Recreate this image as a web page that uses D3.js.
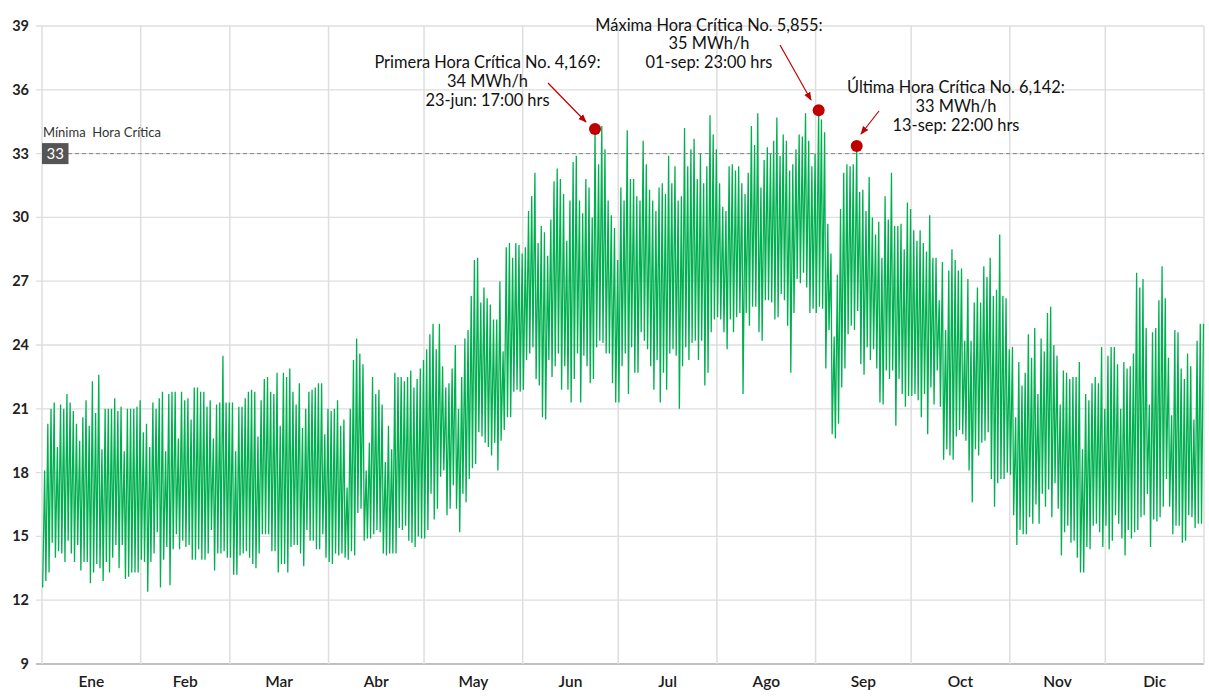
<!DOCTYPE html>
<html>
<head>
<meta charset="utf-8">
<script src="https://cdn.jsdelivr.net/npm/d3@7"></script>
<style>
  body { margin: 0; background: #fff; }
  text { font-family: Lato, "Open Sans", sans-serif; }
</style>
</head>
<body>
<script>
var width = 1209,
    height = 698;

var months = ["Ene", "Feb", "Mar", "Abr", "May", "Jun", "Jul", "Ago", "Sep", "Oct", "Nov", "Dic"];
var daysInMonth = [31, 28, 31, 30, 31, 30, 31, 31, 30, 31, 30, 31];
var yTicks = [9, 12, 15, 18, 21, 24, 27, 30, 33, 36, 39];
var threshold = 33;

// daily peak (MWh/h), one value per day
var dailyMax = [
  // Ene
  18.1, 20.3, 21.0, 21.3, 19.2, 21.2, 21.0, 21.7, 21.3, 20.9, 20.3, 19.5, 20.6, 21.4, 20.2, 22.3, 20.8, 22.6, 19.1, 21.0, 21.0, 21.0, 21.5, 20.9, 21.1, 19.0, 21.0, 21.0, 21.0, 21.1, 21.4,
  // Feb
  19.9, 20.3, 19.2, 21.3, 21.0, 21.5, 21.8, 19.0, 21.7, 21.8, 21.8, 19.6, 21.8, 21.4, 21.5, 20.5, 22.0, 22.0, 21.8, 21.8, 21.1, 21.4, 19.6, 21.2, 21.3, 23.5, 21.3, 21.3,
  // Mar
  21.3, 19.0, 21.1, 21.1, 21.5, 21.8, 21.9, 21.8, 19.7, 21.4, 22.4, 22.5, 21.8, 21.7, 22.7, 20.2, 22.7, 22.5, 22.9, 21.8, 21.2, 22.2, 20.1, 21.0, 21.8, 21.9, 22.0, 22.2, 22.2, 19.8, 21.0,
  // Abr
  20.9, 21.0, 21.4, 20.2, 20.5, 17.3, 21.0, 23.3, 24.3, 23.6, 23.1, 18.1, 19.4, 22.5, 21.7, 21.9, 21.2, 18.5, 20.2, 19.1, 22.7, 22.5, 22.5, 22.3, 22.5, 22.8, 22.0, 22.4, 22.9, 23.3,
  // May
  23.8, 24.5, 25.0, 23.8, 25.0, 23.0, 22.0, 22.2, 22.9, 24.0, 21.0, 22.5, 24.3, 24.7, 26.3, 28.0, 28.1, 26.0, 26.7, 26.2, 25.9, 25.2, 25.2, 27.0, 23.7, 28.6, 28.8, 28.1, 28.8, 28.7, 28.3,
  // Jun
  28.6, 30.3, 31.0, 32.1, 28.8, 29.6, 29.3, 28.2, 29.9, 31.7, 32.3, 31.8, 31.1, 28.9, 30.8, 32.6, 32.9, 30.8, 30.2, 31.8, 31.4, 30.0, 34.16, 32.5, 34.3, 33.2, 30.8, 30.1, 29.5, 28.0,
  // Jul
  31.4, 30.8, 34.1, 31.8, 31.8, 31.0, 30.8, 33.6, 32.5, 31.3, 30.8, 30.3, 31.4, 31.6, 31.1, 32.9, 31.6, 32.4, 30.8, 31.0, 34.2, 32.4, 33.2, 33.7, 31.8, 33.0, 31.6, 32.4, 34.8, 33.9, 33.2,
  // Ago
  31.6, 30.5, 30.3, 32.4, 32.5, 32.2, 32.4, 31.6, 31.1, 32.1, 34.3, 33.4, 34.9, 31.4, 32.7, 33.3, 33.0, 33.6, 34.7, 32.9, 33.9, 33.6, 32.2, 32.5, 33.2, 33.9, 33.8, 34.9, 33.6, 32.4, 33.0,
  // Sep
  35.04, 34.6, 34.0, 29.7, 28.3, 24.4, 27.3, 30.4, 32.1, 32.5, 32.4, 32.5, 33.36, 31.2, 31.3, 30.3, 31.9, 30.0, 29.2, 29.8, 28.1, 31.0, 29.9, 32.1, 29.6, 29.6, 29.7, 28.5, 30.7, 30.4,
  // Oct
  29.4, 28.9, 29.4, 28.8, 28.4, 30.1, 28.1, 28.1, 26.1, 27.9, 24.7, 27.5, 28.5, 28.0, 27.5, 27.6, 24.2, 27.1, 24.2, 26.0, 26.7, 26.0, 27.7, 27.2, 28.1, 26.3, 26.6, 29.2, 26.3, 26.2, 23.8,
  // Nov
  23.9, 20.6, 23.2, 22.1, 22.7, 24.5, 23.4, 24.8, 21.7, 24.3, 23.7, 25.5, 25.8, 24.0, 23.5, 21.2, 22.8, 22.7, 22.4, 22.5, 22.5, 23.2, 19.1, 21.7, 21.4, 22.2, 22.5, 22.2, 23.9, 21.0,
  // Dic
  23.5, 23.9, 23.9, 23.1, 21.0, 23.2, 22.9, 23.0, 23.6, 27.4, 26.7, 27.1, 24.8, 21.2, 24.6, 24.8, 26.1, 27.7, 26.2, 23.4, 20.7, 24.7, 24.6, 22.9, 22.4, 23.6, 23.0, 20.5, 24.2, 25.0, 25.0
];

// daily low (MWh/h)
var dailyMin = [
  // Ene
  12.6, 12.9, 13.3, 14.7, 14.0, 14.3, 14.2, 13.8, 14.8, 14.2, 13.8, 14.6, 13.4, 13.8, 13.8, 12.8, 13.3, 13.7, 13.5, 12.9, 13.8, 13.3, 14.0, 14.6, 13.5, 14.6, 13.0, 13.1, 13.3, 13.3, 13.3,
  // Feb
  13.9, 13.8, 12.4, 13.8, 14.2, 15.2, 12.6, 13.9, 14.5, 12.7, 14.4, 15.1, 14.4, 14.8, 14.5, 14.6, 13.9, 13.9, 14.4, 13.9, 13.9, 14.2, 15.3, 13.4, 14.2, 14.2, 14.3, 14.0,
  // Mar
  14.0, 13.2, 13.2, 14.1, 14.2, 14.3, 14.0, 13.7, 13.5, 14.2, 15.1, 15.1, 15.1, 14.3, 14.3, 13.3, 13.7, 13.7, 13.3, 14.5, 14.6, 14.6, 14.2, 13.6, 15.3, 14.8, 14.8, 14.4, 14.4, 15.1, 14.0,
  // Abr
  13.8, 13.7, 14.2, 14.1, 14.2, 14.0, 13.9, 14.3, 14.1, 16.1, 16.3, 14.8, 14.9, 14.9, 15.1, 15.3, 15.2, 14.2, 14.1, 14.2, 14.2, 14.2, 15.4, 15.3, 15.5, 14.8, 14.7, 14.5, 15.0, 14.9,
  // May
  14.9, 15.3, 17.0, 15.8, 16.3, 17.8, 18.1, 16.0, 16.3, 17.4, 16.3, 15.2, 17.0, 16.6, 17.7, 18.2, 18.4, 19.9, 19.7, 19.4, 19.2, 18.8, 19.4, 18.1, 19.5, 20.0, 20.6, 20.6, 21.8, 21.9, 21.8,
  // Jun
  21.9, 23.3, 23.6, 23.9, 22.4, 22.1, 20.6, 20.5, 23.3, 22.5, 23.0, 23.6, 21.9, 23.0, 21.9, 21.3, 22.4, 23.6, 21.3, 23.5, 23.0, 22.2, 22.4, 23.9, 24.2, 24.1, 23.6, 23.6, 22.2, 21.3,
  // Jul
  21.3, 23.0, 23.6, 21.7, 23.9, 22.7, 22.7, 24.6, 24.2, 23.8, 23.0, 21.9, 23.3, 21.3, 22.7, 21.9, 23.6, 23.8, 23.5, 21.0, 23.0, 23.9, 23.3, 24.1, 24.2, 23.3, 24.2, 22.1, 22.7, 24.6, 25.2,
  // Ago
  25.3, 25.2, 24.6, 23.8, 25.2, 24.6, 25.3, 25.5, 21.7, 25.5, 24.9, 25.8, 25.8, 24.6, 24.2, 26.1, 26.1, 26.0, 25.2, 25.3, 26.4, 26.1, 24.9, 22.7, 25.5, 27.1, 26.9, 27.4, 26.7, 25.5, 25.7,
  // Sep
  25.5, 25.8, 25.7, 22.9, 24.7, 19.8, 19.6, 20.3, 22.0, 22.9, 24.5, 24.9, 24.7, 25.6, 23.1, 22.6, 23.9, 23.3, 23.8, 22.9, 21.3, 21.2, 22.8, 22.4, 22.8, 20.2, 22.4, 21.7, 21.1, 21.6,
  // Oct
  21.6, 21.7, 21.4, 20.6, 21.7, 19.8, 22.0, 21.2, 22.8, 21.1, 18.6, 19.1, 18.8, 18.6, 19.7, 20.0, 19.8, 19.5, 18.1, 16.6, 19.1, 18.8, 19.4, 19.5, 19.9, 17.7, 16.4, 17.5, 17.7, 17.7, 18.0,
  // Nov
  17.9, 16.0, 14.6, 15.3, 15.1, 15.1, 15.9, 15.6, 16.5, 15.6, 17.0, 16.4, 17.2, 15.9, 17.5, 16.3, 14.1, 15.2, 15.5, 14.7, 14.8, 14.0, 13.3, 13.3, 14.5, 14.4, 15.5, 15.6, 15.2, 14.5,
  // Dic
  15.5, 14.4, 14.8, 16.0, 15.6, 14.9, 14.1, 15.3, 14.9, 15.2, 15.3, 15.9, 16.0, 17.0, 14.5, 15.8, 15.7, 15.9, 16.4, 17.7, 16.4, 15.1, 15.5, 15.5, 14.7, 14.8, 16.0, 15.9, 15.4, 15.6, 15.6
];

// critical hours
var critTitles = ["Primera Hora Crítica", "Máxima Hora Crítica", "Última Hora Crítica"];
var critHours = [4169, 5855, 6142];
var critValues = [34.16, 35.04, 33.36];
var critDates = ["23-jun", "01-sep", "13-sep"];

var svg = d3.select("body").append("svg")
    .attr("width", width)
    .attr("height", height);

var x = d3.scaleLinear()
    .domain([0, 8760])
    .range([42, 1204]);

var y = d3.scaleLinear()
    .domain([9, 39])
    .range([664, 26]);

// month boundaries in hours
var monthStart = [0];
daysInMonth.forEach(function(d, i) { monthStart.push(monthStart[i] + d * 24); });

var grid = svg.append("g").attr("class", "grid");

grid.selectAll("line.h")
  .data(yTicks)
  .enter().append("line")
    .attr("class", "h")
    .attr("x1", 36)
    .attr("x2", x(8760))
    .attr("y1", d => y(d))
    .attr("y2", d => y(d))
    .style("stroke", d => d === 9 ? "#aaa" : "#dedede")
    .style("stroke-width", 1.3);

grid.selectAll("line.v")
  .data(monthStart)
  .enter().append("line")
    .attr("class", "v")
    .attr("x1", d => x(d))
    .attr("x2", d => x(d))
    .attr("y1", y(39))
    .attr("y2", y(9))
    .style("stroke", "#dedede")
    .style("stroke-width", 1.5);

svg.append("g").selectAll("text")
  .data(yTicks)
  .enter().append("text")
    .attr("x", 29)
    .attr("y", d => y(d))
    .attr("dy", "0.35em")
    .attr("text-anchor", "end")
    .style("font-size", "14.5px")
    .style("font-weight", "bold")
    .style("fill", "#222")
    .text(d => d);

svg.append("g").selectAll("text")
  .data(months)
  .enter().append("text")
    .attr("x", (d, i) => x((monthStart[i] + monthStart[i + 1]) / 2))
    .attr("y", 687)
    .attr("text-anchor", "middle")
    .style("font-size", "15.5px")
    .style("font-weight", "600")
    .style("fill", "#1a1a1a")
    .text(d => d);

// hourly zigzag: daily low early morning, daily peak in the evening
var points = [];
dailyMax.forEach(function(mx, i) {
  var peakHour = 20;
  critHours.forEach(function(h) { if (Math.floor(h / 24) === i) peakHour = h % 24; });
  points.push([i * 24 + 5, dailyMin[i]]);
  points.push([i * 24 + peakHour, mx]);
});

var line = d3.line()
    .x(d => x(d[0]))
    .y(d => y(d[1]));

svg.append("path")
    .datum(points)
    .attr("d", line)
    .style("fill", "none")
    .style("stroke", "#00b050")
    .style("stroke-width", 1.3)
    .style("stroke-linejoin", "miter");

// threshold
svg.append("line")
    .attr("x1", 68)
    .attr("x2", x(8760))
    .attr("y1", y(threshold))
    .attr("y2", y(threshold))
    .style("stroke", "#888")
    .style("stroke-width", 1)
    .style("stroke-dasharray", "4,3");

svg.append("rect")
    .attr("x", 42)
    .attr("y", y(threshold) - 10.5)
    .attr("width", 26.5)
    .attr("height", 21)
    .style("fill", "#555");

svg.append("text")
    .attr("x", 55.2)
    .attr("y", y(threshold) + 5.5)
    .attr("text-anchor", "middle")
    .style("font-size", "15px")
    .style("fill", "#fff")
    .text(threshold);

svg.append("text")
    .attr("x", 43)
    .attr("y", 137)
    .style("font-size", "13px")
    .style("fill", "#333")
    .style("white-space", "pre")
    .text("Mínima  Hora Crítica");

// annotations
var defs = svg.append("defs");
defs.append("marker")
    .attr("id", "arrow")
    .attr("viewBox", "0 0 10 10")
    .attr("refX", 9)
    .attr("refY", 5)
    .attr("markerWidth", 7)
    .attr("markerHeight", 7)
    .attr("orient", "auto")
  .append("path")
    .attr("d", "M0,1 L10,5 L0,9 Z")
    .style("fill", "#c00000");

var labelPos = [[487.5, 68.3], [709, 30.7], [956, 93.3]];
var arrowFrom = [[548, 83], [780, 45], [879, 111]];
var arrowTo = [[586, 122], [811, 100], [861, 134]];

var fmt = d3.format(",");

critHours.forEach(function(h, i) {
  var g = svg.append("g").attr("class", "annotation");

  g.append("line")
      .attr("x1", arrowFrom[i][0])
      .attr("y1", arrowFrom[i][1])
      .attr("x2", arrowTo[i][0])
      .attr("y2", arrowTo[i][1])
      .style("stroke", "#c00000")
      .style("stroke-width", 1.2)
      .attr("marker-end", "url(#arrow)");

  g.append("circle")
      .attr("cx", x(h))
      .attr("cy", y(critValues[i]))
      .attr("r", 6)
      .style("fill", "#c00000");

  var hh = (h % 24 < 10 ? "0" : "") + (h % 24) + ":00 hrs";
  var lines = [
    critTitles[i] + " No. " + fmt(h) + ":",
    Math.round(critValues[i]) + " MWh/h",
    critDates[i] + ": " + hh
  ];

  g.selectAll("text")
    .data(lines)
    .enter().append("text")
      .attr("x", labelPos[i][0])
      .attr("y", (d, k) => labelPos[i][1] + k * 18.6)
      .attr("text-anchor", "middle")
      .style("font-size", "16.4px")
      .style("fill", "#111")
      .text(d => d);
});
</script>
</body>
</html>
